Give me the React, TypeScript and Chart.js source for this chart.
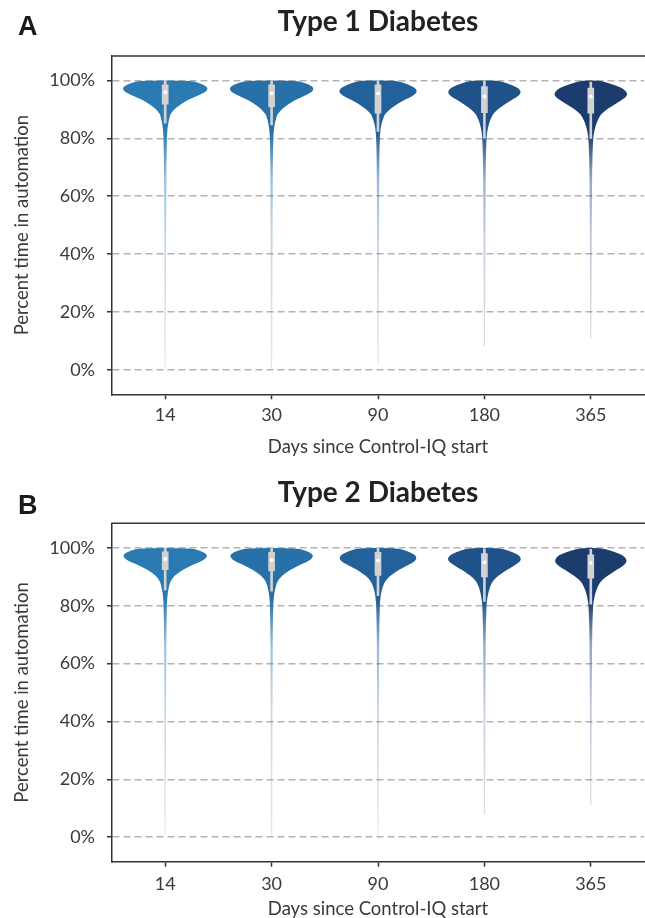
import React, { useEffect, useRef } from "react";
import { Chart, registerables } from "chart.js";

Chart.register(...registerables);

// ---------- data ----------
const categories = ["14", "30", "90", "180", "365"];
const yTickValues = [0, 20, 40, 60, 80, 100];
const xAxisTitle = "Days since Control-IQ start";
const yAxisTitle = "Percent time in automation";

// percent levels at which violin widths (fraction of category width) are read
const densityLevels = [100, 99, 98, 97, 96, 95, 94, 93, 92, 91, 90, 89, 88, 86, 84, 82, 80, 75, 70, 60, 50, 40, 30, 20, 10, 0];

// Type 1 diabetes
const t1Width14 = [0.47, 0.67, 0.78, 0.8, 0.75, 0.64, 0.51, 0.4, 0.31, 0.23, 0.17, 0.12, 0.093, 0.065, 0.047, 0.037, 0.032, 0.026, 0.023, 0.021, 0.019, 0.017, 0.015, 0.014, 0.013, 0.011];
const t1Width30 = [0.45, 0.66, 0.77, 0.79, 0.75, 0.65, 0.53, 0.42, 0.33, 0.25, 0.19, 0.14, 0.1, 0.07, 0.05, 0.038, 0.032, 0.026, 0.023, 0.021, 0.019, 0.017, 0.015, 0.014, 0.013, 0.011];
const t1Width90 = [0.33, 0.52, 0.65, 0.72, 0.73, 0.68, 0.58, 0.47, 0.37, 0.29, 0.22, 0.16, 0.12, 0.08, 0.055, 0.042, 0.034, 0.027, 0.024, 0.021, 0.019, 0.017, 0.015, 0.013, 0.012, 0.01];
const t1Width180 = [0.25, 0.44, 0.58, 0.66, 0.685, 0.66, 0.58, 0.49, 0.4, 0.32, 0.25, 0.19, 0.15, 0.1, 0.07, 0.05, 0.04, 0.03, 0.025, 0.022, 0.019, 0.017, 0.015, 0.013, 0.012, 0.01];
const t1Width365 = [0.16, 0.36, 0.52, 0.62, 0.675, 0.685, 0.64, 0.56, 0.47, 0.38, 0.3, 0.23, 0.18, 0.12, 0.085, 0.06, 0.045, 0.033, 0.027, 0.022, 0.019, 0.016, 0.014, 0.012, 0.01, 0.009];
const t1TailMin = [0, 0, 2, 8, 11];
const t1Q1 = [91.8, 91.0, 88.7, 88.9, 88.7];
const t1Q3 = [98.5, 98.5, 98.5, 97.9, 97.4];
const t1Median = [96.0, 95.6, 95.6, 94.5, 94.5];
const t1WhiskerLow = [85.3, 84.7, 82.4, 80.1, 80.0];
const t1WhiskerHigh = [100, 100, 100, 99.7, 99.5];

// Type 2 diabetes
const t2Width14 = [0.46, 0.66, 0.77, 0.79, 0.74, 0.63, 0.5, 0.39, 0.3, 0.22, 0.16, 0.12, 0.09, 0.063, 0.046, 0.036, 0.031, 0.025, 0.022, 0.02, 0.018, 0.016, 0.015, 0.014, 0.013, 0.011];
const t2Width30 = [0.44, 0.65, 0.76, 0.78, 0.74, 0.64, 0.52, 0.41, 0.32, 0.24, 0.18, 0.13, 0.1, 0.068, 0.049, 0.037, 0.031, 0.025, 0.022, 0.02, 0.018, 0.016, 0.015, 0.014, 0.013, 0.011];
const t2Width90 = [0.34, 0.53, 0.66, 0.72, 0.72, 0.66, 0.56, 0.45, 0.36, 0.28, 0.21, 0.16, 0.12, 0.08, 0.055, 0.042, 0.034, 0.027, 0.023, 0.02, 0.018, 0.016, 0.015, 0.013, 0.012, 0.01];
const t2Width180 = [0.27, 0.46, 0.6, 0.67, 0.69, 0.65, 0.57, 0.48, 0.39, 0.31, 0.24, 0.18, 0.14, 0.095, 0.068, 0.05, 0.04, 0.03, 0.025, 0.022, 0.019, 0.017, 0.015, 0.013, 0.012, 0.01];
const t2Width365 = [0.18, 0.38, 0.54, 0.63, 0.67, 0.67, 0.62, 0.54, 0.45, 0.37, 0.29, 0.22, 0.17, 0.115, 0.08, 0.058, 0.044, 0.032, 0.026, 0.022, 0.019, 0.016, 0.014, 0.012, 0.01, 0.009];
const t2TailMin = [0, 0, 0, 8, 11];
const t2Q1 = [92.5, 92.0, 90.5, 90.0, 89.5];
const t2Q3 = [98.6, 98.5, 98.5, 98.0, 97.6];
const t2Median = [96.2, 95.8, 95.6, 95.0, 94.8];
const t2WhiskerLow = [85.5, 85.0, 83.5, 81.5, 80.5];
const t2WhiskerHigh = [100, 100, 100, 99.7, 99.5];

const violinColors = ["#2b7bb2", "#2770a8", "#22619a", "#1f5288", "#1b3c6c"];

// ---------- helpers ----------
type Panel = {
  title: string;
  widths: number[][];
  tailMin: number[];
  q1: number[];
  q3: number[];
  median: number[];
  lo: number[];
  hi: number[];
  titlePadTop: number;
  titlePadBottom: number;
  xAxisHeight: number;
  xTickPad: number;
  xTitlePadBottom: number;
};

const panelT1: Panel = {
  title: "Type 1 Diabetes",
  widths: [t1Width14, t1Width30, t1Width90, t1Width180, t1Width365],
  tailMin: t1TailMin,
  q1: t1Q1, q3: t1Q3, median: t1Median, lo: t1WhiskerLow, hi: t1WhiskerHigh,
  titlePadTop: 5, titlePadBottom: 17.4, xAxisHeight: 65.7, xTickPad: 5, xTitlePadBottom: 2,
};
const panelT2: Panel = {
  title: "Type 2 Diabetes",
  widths: [t2Width14, t2Width30, t2Width90, t2Width180, t2Width365],
  tailMin: t2TailMin,
  q1: t2Q1, q3: t2Q3, median: t2Median, lo: t2WhiskerLow, hi: t2WhiskerHigh,
  titlePadTop: 15.7, titlePadBottom: 14, xAxisHeight: 58.3, xTickPad: 7, xTitlePadBottom: 0,
};

function rgba(hex: string, a: number) {
  const n = parseInt(hex.slice(1), 16);
  return `rgba(${(n >> 16) & 255},${(n >> 8) & 255},${n & 255},${a})`;
}

function makeViolinPlugin(p: Panel) {
  return {
    id: "violins",
    beforeDatasetsDraw(chart: any) {
      const { ctx, chartArea } = chart;
      const xs = chart.scales.x;
      const ys = chart.scales.y;
      const catW = Math.abs(xs.getPixelForValue(1) - xs.getPixelForValue(0));
      categories.forEach((_, i) => {
        const cx = xs.getPixelForValue(i);
        const w = p.widths[i];
        const right = densityLevels.map((lv, k) => ({ x: cx + (w[k] * catW) / 2, y: ys.getPixelForValue(lv) }));
        const left = densityLevels.map((lv, k) => ({ x: cx - (w[k] * catW) / 2, y: ys.getPixelForValue(lv) })).reverse();
        const pts = [...right, ...left];
        const yTop = ys.getPixelForValue(densityLevels[0]);
        const yZero = ys.getPixelForValue(0);
        const yMin = ys.getPixelForValue(p.tailMin[i]);
        ctx.save();
        ctx.beginPath();
        ctx.rect(chartArea.left, yTop - 2, chartArea.right - chartArea.left, yMin - yTop + 2);
        ctx.clip();
        const off = (v: number) => (ys.getPixelForValue(v) - yTop) / (yZero - yTop);
        const g = ctx.createLinearGradient(0, yTop, 0, yZero);
        const c = violinColors[i];
        g.addColorStop(0, rgba(c, 1));
        g.addColorStop(off(82), rgba(c, 1));
        g.addColorStop(off(66), rgba(c, 0.45));
        g.addColorStop(off(45), rgba(c, 0.27));
        g.addColorStop(1, rgba(c, 0.16));
        const n = pts.length;
        const mid = (a: any, b: any) => ({ x: (a.x + b.x) / 2, y: (a.y + b.y) / 2 });
        ctx.beginPath();
        const m0 = mid(pts[n - 1], pts[0]);
        ctx.moveTo(m0.x, m0.y);
        for (let k = 0; k < n; k++) {
          const cur = pts[k];
          const m = mid(cur, pts[(k + 1) % n]);
          ctx.quadraticCurveTo(cur.x, cur.y, m.x, m.y);
        }
        ctx.closePath();
        ctx.fillStyle = g;
        ctx.fill();
        ctx.restore();
      });
    },
  };
}

const frameTopPlugin = {
  id: "frameTop",
  afterDatasetsDraw(chart: any) {
    const { ctx, chartArea: a } = chart;
    ctx.save();
    ctx.strokeStyle = "#333";
    ctx.lineWidth = 1.5;
    ctx.beginPath();
    ctx.moveTo(a.left - 0.75, a.top);
    ctx.lineTo(a.right + 2, a.top);
    ctx.stroke();
    ctx.restore();
  },
};

const tickFont = { family: "Lato", size: 18 };
const axisTitleFont = { family: "Lato", size: 18.5 };

function makeConfig(p: Panel): any {
  return {
    type: "bar",
    data: {
      labels: categories,
      datasets: [
        {
          type: "line",
          label: "Median",
          data: p.median,
          showLine: false,
          pointRadius: 1.9,
          pointBackgroundColor: "#ffffff",
          pointBorderWidth: 0,
          order: 0,
        },
        {
          type: "bar",
          label: "Interquartile range",
          data: p.q1.map((v, i) => [v, p.q3[i]]),
          backgroundColor: "#d2d2d2",
          barThickness: 6,
          grouped: false,
          borderWidth: 0,
          order: 1,
        },
        {
          type: "bar",
          label: "Whiskers",
          data: p.lo.map((v, i) => [v, p.hi[i]]),
          backgroundColor: "#d2d2d2",
          barThickness: 2,
          grouped: false,
          borderWidth: 0,
          order: 2,
        },
      ],
    },
    options: {
      responsive: false,
      maintainAspectRatio: false,
      animation: false,
      layout: { padding: { left: 0, right: 0, top: 0, bottom: 0 } },
      plugins: {
        legend: { display: false },
        tooltip: { enabled: false },
        title: {
          display: true,
          text: p.title,
          fullSize: false,
          color: "#222",
          font: { family: "Lato", size: 28, weight: "bold" },
          padding: { top: p.titlePadTop, bottom: p.titlePadBottom },
        },
      },
      scales: {
        x: {
          type: "category",
          offset: true,
          grid: {
            display: true,
            drawOnChartArea: false,
            drawTicks: true,
            tickLength: 5,
            tickColor: "#333",
            tickWidth: 1.5,
            offset: false,
          },
          border: { display: true, color: "#333", width: 1.5 },
          ticks: { color: "#3a3a3a", font: tickFont, padding: p.xTickPad, maxRotation: 0 },
          title: {
            display: true,
            text: xAxisTitle,
            color: "#3a3a3a",
            font: axisTitleFont,
            padding: { top: 0, bottom: p.xTitlePadBottom },
          },
          afterFit: (s: any) => {
            s.height = p.xAxisHeight;
          },
        },
        y: {
          type: "linear",
          min: -8.5,
          max: 108.5,
          afterBuildTicks: (s: any) => {
            s.ticks = yTickValues.map((v) => ({ value: v }));
          },
          grid: {
            color: "#b4b4b4",
            lineWidth: 1.5,
            drawTicks: true,
            tickLength: 5,
            tickColor: "#333",
            tickWidth: 1.5,
          },
          border: { display: true, color: "#333", width: 1.5, dash: [7, 4] },
          ticks: {
            color: "#3a3a3a",
            font: tickFont,
            padding: 12,
            callback: (v: any) => `${v}%`,
          },
          title: {
            display: true,
            text: yAxisTitle,
            color: "#3a3a3a",
            font: axisTitleFont,
            padding: { top: 11, bottom: 0 },
          },
          afterFit: (s: any) => {
            s.width = 112;
          },
        },
      },
    },
    plugins: [makeViolinPlugin(p), frameTopPlugin],
  };
}

const panelLetterStyle: React.CSSProperties = {
  position: "absolute",
  left: 18,
  font: 'bold 27px "Liberation Sans", Arial, sans-serif',
  lineHeight: "27px",
  color: "#1a1a1a",
};

export default function App() {
  const ref1 = useRef<HTMLCanvasElement>(null);
  const ref2 = useRef<HTMLCanvasElement>(null);

  useEffect(() => {
    const c1 = new Chart(ref1.current as HTMLCanvasElement, makeConfig(panelT1));
    const c2 = new Chart(ref2.current as HTMLCanvasElement, makeConfig(panelT2));
    return () => {
      c1.destroy();
      c2.destroy();
    };
  }, []);

  return (
    <div
      style={{
        position: "absolute",
        left: 0,
        top: 0,
        width: 645,
        height: 918,
        overflow: "hidden",
        background: "#ffffff",
      }}
    >
      <canvas
        ref={ref1}
        width={648}
        height={460}
        style={{ position: "absolute", left: 0, top: 0, width: 648, height: 460 }}
      />
      <canvas
        ref={ref2}
        width={648}
        height={460}
        style={{ position: "absolute", left: 0, top: 460, width: 648, height: 460 }}
      />
      <div style={{ ...panelLetterStyle, top: 13 }}>A</div>
      <div style={{ ...panelLetterStyle, top: 492 }}>B</div>
    </div>
  );
}
